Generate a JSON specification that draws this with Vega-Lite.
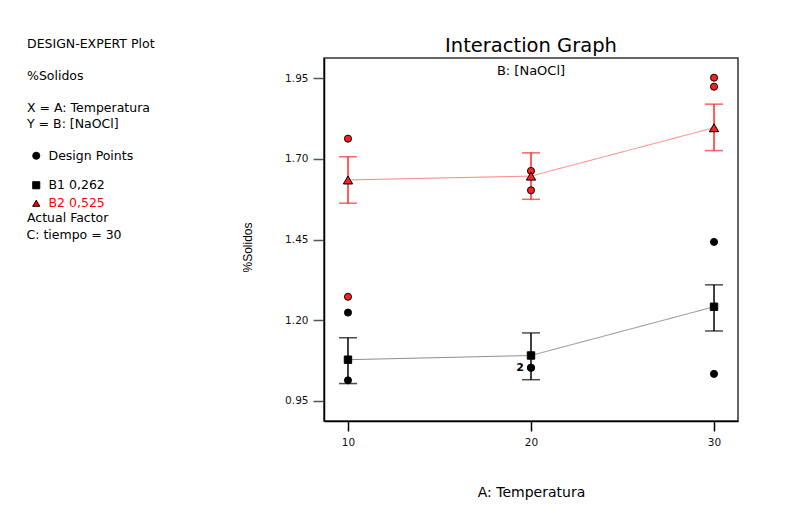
{
  "$schema": "https://vega.github.io/schema/vega-lite/v6.json",
  "width": 414,
  "height": 363,
  "autosize": {"type": "none"},
  "padding": {"left": 324, "top": 58, "right": 51, "bottom": 104},
  "background": "white",
  "title": {
    "text": "Interaction Graph",
    "subtitle": "B: [NaOCl]",
    "anchor": "middle",
    "frame": "group",
    "font": "DejaVu Sans",
    "fontSize": 19.5,
    "fontWeight": "normal",
    "color": "black",
    "subtitleFont": "DejaVu Sans",
    "subtitleFontSize": 13,
    "subtitleColor": "black",
    "subtitlePadding": 9,
    "offset": -41
  },
  "datasets": {
    "puntos": [
      {"A": 10, "B": "B1 0,262", "valor": 1.224, "tipo": "Design Points"},
      {"A": 10, "B": "B1 0,262", "valor": 1.014, "tipo": "Design Points"},
      {"A": 20, "B": "B1 0,262", "valor": 1.053, "tipo": "Design Points"},
      {"A": 20, "B": "B1 0,262", "valor": 1.053, "tipo": "Design Points"},
      {"A": 30, "B": "B1 0,262", "valor": 1.443, "tipo": "Design Points"},
      {"A": 30, "B": "B1 0,262", "valor": 1.034, "tipo": "Design Points"},
      {"A": 10, "B": "B2 0,525", "valor": 1.763, "tipo": "Design Points"},
      {"A": 10, "B": "B2 0,525", "valor": 1.273, "tipo": "Design Points"},
      {"A": 20, "B": "B2 0,525", "valor": 1.663, "tipo": "Design Points"},
      {"A": 20, "B": "B2 0,525", "valor": 1.603, "tipo": "Design Points"},
      {"A": 30, "B": "B2 0,525", "valor": 1.952, "tipo": "Design Points"},
      {"A": 30, "B": "B2 0,525", "valor": 1.924, "tipo": "Design Points"}
    ],
    "medias": [
      {"A": 10, "B": "B1 0,262", "media": 1.078, "inf": 1.004, "sup": 1.146, "C": 30},
      {"A": 20, "B": "B1 0,262", "media": 1.091, "inf": 1.016, "sup": 1.161, "C": 30},
      {"A": 30, "B": "B1 0,262", "media": 1.242, "inf": 1.167, "sup": 1.310, "C": 30},
      {"A": 10, "B": "B2 0,525", "media": 1.635, "inf": 1.563, "sup": 1.707, "C": 30},
      {"A": 20, "B": "B2 0,525", "media": 1.647, "inf": 1.575, "sup": 1.719, "C": 30},
      {"A": 30, "B": "B2 0,525", "media": 1.797, "inf": 1.726, "sup": 1.870, "C": 30}
    ],
    "repetidos": [
      {"A": 20, "valor": 1.053, "n": "2"}
    ]
  },
  "config": {
    "view": {"stroke": "#333", "strokeWidth": 1.5},
    "axis": {
      "grid": false,
      "labelFont": "DejaVu Sans",
      "labelFontSize": 10.5,
      "labelColor": "#111",
      "tickColor": "#555",
      "tickWidth": 1.5,
      "tickSize": 10,
      "domainColor": "black",
      "domainWidth": 1.5,
      "titleFontWeight": "normal",
      "titleColor": "black"
    },
    "legend": {
      "orient": "none",
      "padding": 0,
      "labelFont": "DejaVu Sans",
      "labelFontSize": 12.5,
      "labelColor": "black",
      "titleFont": "DejaVu Sans",
      "titleFontSize": 12.5,
      "titleFontWeight": "normal",
      "titleColor": "black",
      "titleLineHeight": 16,
      "titleLimit": 300,
      "labelLimit": 300,
      "rowPadding": 5,
      "symbolSize": 50,
      "symbolStrokeWidth": 1
    }
  },
  "encoding": {
    "x": {
      "field": "A",
      "type": "quantitative",
      "scale": {"domain": [8.69, 31.31], "nice": false, "zero": false},
      "axis": {
        "values": [10, 20, 30],
        "title": "A: Temperatura",
        "titleFont": "DejaVu Sans",
        "titleFontSize": 14,
        "titleX": 207,
        "titleY": 71,
        "titleBaseline": "middle",
        "labelPadding": 6,
        "labelFlush": false,
        "tickColor": "black"
      }
    }
  },
  "layer": [
    {
      "data": {"name": "medias"},
      "mark": {"type": "line", "strokeWidth": 1},
      "encoding": {
        "y": {
          "field": "media",
          "type": "quantitative",
          "scale": {"domain": [0.888, 2.013], "nice": false, "zero": false},
          "axis": {
            "values": [0.95, 1.2, 1.45, 1.7, 1.95],
            "format": ".2f",
            "title": "%Solidos",
            "titleFont": "Liberation Sans",
            "titleFontSize": 12,
            "titleX": -77,
            "titleY": 189,
            "titleAngle": -90,
            "titleBaseline": "middle",
            "titleAlign": "center",
            "labelPadding": 5,
            "tickSize": 11
          }
        },
        "color": {
          "field": "B",
          "type": "nominal",
          "scale": {"domain": ["B1 0,262", "B2 0,525"], "range": ["#8a8a8a", "#ff8080"]},
          "legend": null
        },
        "strokeDash": {
          "field": "C",
          "type": "nominal",
          "scale": {"range": [[1, 0]]},
          "legend": {
            "title": "Actual Factor",
            "labelExpr": "'C: tiempo = ' + datum.label",
            "legendX": -297,
            "legendY": 154,
            "titlePadding": 4,
            "symbolOpacity": 0,
            "symbolSize": 0,
            "labelOffset": -13
          }
        }
      }
    },
    {
      "data": {"name": "medias"},
      "mark": {"type": "rule", "strokeWidth": 1.5},
      "encoding": {
        "y": {"field": "inf", "type": "quantitative"},
        "y2": {"field": "sup"},
        "stroke": {
          "field": "B",
          "type": "nominal",
          "scale": {"domain": ["B1 0,262", "B2 0,525"], "range": ["black", "#ff2a2a"]},
          "legend": null
        }
      }
    },
    {
      "data": {"name": "medias"},
      "mark": {"type": "tick", "orient": "horizontal", "size": 18, "thickness": 1.5},
      "encoding": {
        "y": {"field": "inf", "type": "quantitative"},
        "fill": {
          "field": "B",
          "type": "nominal",
          "scale": {"domain": ["B1 0,262", "B2 0,525"], "range": ["black", "#ff2020"]},
          "legend": null
        }
      }
    },
    {
      "data": {"name": "medias"},
      "mark": {"type": "tick", "orient": "horizontal", "size": 18, "thickness": 1.5},
      "encoding": {
        "y": {"field": "sup", "type": "quantitative"},
        "fill": {"field": "B", "type": "nominal", "legend": null}
      }
    },
    {
      "data": {"name": "puntos"},
      "mark": {"type": "point", "filled": true, "stroke": "black", "strokeWidth": 1, "size": 50, "opacity": 1},
      "encoding": {
        "y": {"field": "valor", "type": "quantitative"},
        "fill": {"field": "B", "type": "nominal", "legend": null},
        "shape": {
          "field": "tipo",
          "type": "nominal",
          "scale": {"range": ["circle"]},
          "legend": {
            "title": ["DESIGN-EXPERT Plot", "\u200b", "%Solidos", "\u200b", "X = A: Temperatura", "Y = B: [NaOCl]"],
            "legendX": -297,
            "legendY": -20,
            "titlePadding": 19,
            "symbolFillColor": "black",
            "symbolStrokeColor": "black",
            "symbolOffset": 3,
            "labelOffset": 6
          }
        }
      }
    },
    {
      "data": {"name": "medias"},
      "mark": {"type": "point", "filled": true, "stroke": "black", "strokeWidth": 1, "opacity": 1},
      "encoding": {
        "y": {"field": "media", "type": "quantitative"},
        "fill": {"field": "B", "type": "nominal", "legend": null},
        "size": {
          "field": "B",
          "type": "nominal",
          "scale": {"domain": ["B1 0,262", "B2 0,525"], "range": [55, 86]},
          "legend": null
        },
        "shape": {
          "field": "B",
          "type": "nominal",
          "scale": {"domain": ["B1 0,262", "B2 0,525"], "range": ["square", "triangle-up"]},
          "legend": {
            "title": null,
            "legendX": -297,
            "legendY": 121,
            "symbolOffset": 3,
            "labelOffset": 6,
            "symbolStrokeColor": "black",
            "symbolFillColor": {"expr": "datum.value === 'B2 0,525' ? '#ff0000' : 'black'"},
            "labelColor": {"expr": "datum.value === 'B2 0,525' ? '#ff0000' : 'black'"}
          }
        }
      }
    },
    {
      "data": {"name": "repetidos"},
      "mark": {"type": "text", "dx": -11, "font": "DejaVu Sans", "fontSize": 11, "fontWeight": "bold", "color": "black"},
      "encoding": {
        "y": {"field": "valor", "type": "quantitative"},
        "text": {"field": "n"}
      }
    }
  ],
  "resolve": {"scale": {"shape": "independent"}}
}
